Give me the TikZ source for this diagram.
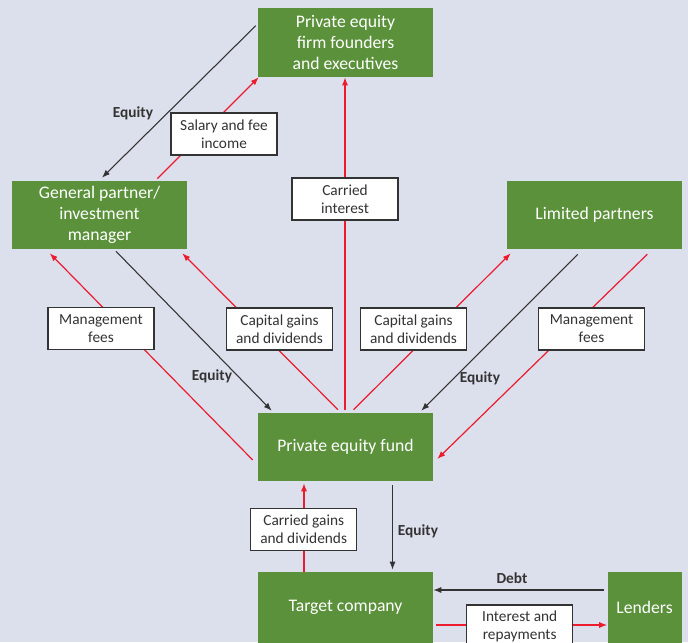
\documentclass[tikz,border=0pt]{standalone}
\usepackage{fontspec}
\setmainfont{Carlito}
\usetikzlibrary{arrows.meta,calc}
\definecolor{bg}{RGB}{220,224,236}
\definecolor{pegreen}{RGB}{91,145,59}
\definecolor{pered}{RGB}{236,28,46}
\definecolor{ink}{RGB}{51,51,51}
\begin{document}
\begin{tikzpicture}[x=0.75pt,y=-0.75pt,
  greenbox/.style={fill=pegreen,text=white,inner sep=0pt,align=center,font=\fontsize{13.25}{15.75}\selectfont},
  lbl/.style={fill=white,draw=ink,line width=0.9pt,text=ink,inner sep=0pt,minimum width=79.5pt,minimum height=31.5pt,align=center,font=\fontsize{11.5}{13.5}\selectfont},
  redarr/.style={draw=pered,line width=0.9pt,-{Latex[length=6pt,width=4.5pt]}},
  blkarr/.style={draw=ink,line width=0.8pt,-{Latex[length=6pt,width=4.5pt]}},
  eqlbl/.style={text=ink,font=\bfseries\fontsize{11.5}{13}\selectfont}]
\fill[bg] (0,0) rectangle (688,642);
\useasboundingbox (0,0) rectangle (688,642);
% green boxes
\node[greenbox,minimum width=131.25pt,minimum height=51.75pt] (founders) at (345.5,42.5) {Private equity\\firm founders\\and executives};
\node[greenbox,minimum width=131.25pt,minimum height=51pt] (gp) at (99.5,215) {General partner/\\investment\\manager};
\node[greenbox,minimum width=131.25pt,minimum height=51pt] (lp) at (594.5,215) {Limited partners};
\node[greenbox,minimum width=131.25pt,minimum height=51pt] (fund) at (345.5,447) {Private equity fund};
\node[greenbox,minimum width=131.25pt,minimum height=53.25pt] (target) at (345.5,607.5) {Target company};
\node[greenbox,minimum width=55.5pt,minimum height=53.25pt] (lenders) at (644.5,607.5) {Lenders};
% connectors
\draw[blkarr] ($(founders.north west)+(-2,18)$) -- ($(gp.north)+(2.5,-3)$);
\draw[redarr] ($(gp.north east)+(-30,-2)$) -- ($(founders.south west)+(1,0)$);
\draw[redarr,line width=1pt] ($(fund.north)+(-0.5,-3)$) -- ($(founders.south)+(-0.5,0)$);
\draw[blkarr] ($(gp.south)+(16.5,2)$) -- ($(fund.north west)+(14,-2)$);
\draw[redarr] ($(fund.west)+(-5,13)$) -- ($(gp.south west)+(38,4)$);
\draw[redarr] ($(fund.north)+(-7.5,-3)$) -- ($(gp.south east)+(-5,4)$);
\draw[redarr] ($(fund.north)+(8,-3)$) -- ($(lp.south west)+(4,4)$);
\draw[blkarr] ($(lp.south west)+(71,5)$) -- ($(fund.north east)+(-12,-2)$);
\draw[redarr] ($(lp.south east)+(-35,5)$) -- ($(fund.east)+(4,12)$);
\draw[blkarr] ($(fund.south)+(47,4)$) -- ($(target.north)+(47,-2)$);
\draw[redarr] ($(target.north)+(-41.5,0)$) -- ($(fund.south)+(-41.5,2)$);
\draw[blkarr] ($(lenders.west)+(-3,-17.5)$) -- ($(target.east)+(0,-17.5)$);
\draw[redarr] ($(target.east)+(3,17.5)$) -- ($(lenders.west)+(0,17.5)$);
% edge labels
\node[eqlbl] (eq1) at (133,113) {Equity};
\node[eqlbl] (eq2) at (212,376) {Equity};
\node[eqlbl] (eq3) at (480,378) {Equity};
\node[eqlbl] (eq4) at (418,531) {Equity};
\node[eqlbl] (debt) at (512,578) {Debt};
% label boxes
\node[lbl] (salary) at (224,134) {Salary and fee\\income};
\node[lbl] (carried) at (345,199) {Carried\\interest};
\node[lbl] (mfl) at (101,328.5) {Management\\fees};
\node[lbl] (cgl) at (279.5,329) {Capital gains\\and dividends};
\node[lbl] (cgr) at (413.5,329) {Capital gains\\and dividends};
\node[lbl] (mfr) at (591.5,329) {Management\\fees};
\node[lbl] (cgd) at (303.7,529.5) {Carried gains\\and dividends};
\node[lbl] (intr) at (519.7,626) {Interest and\\repayments};
\end{tikzpicture}
\end{document}
